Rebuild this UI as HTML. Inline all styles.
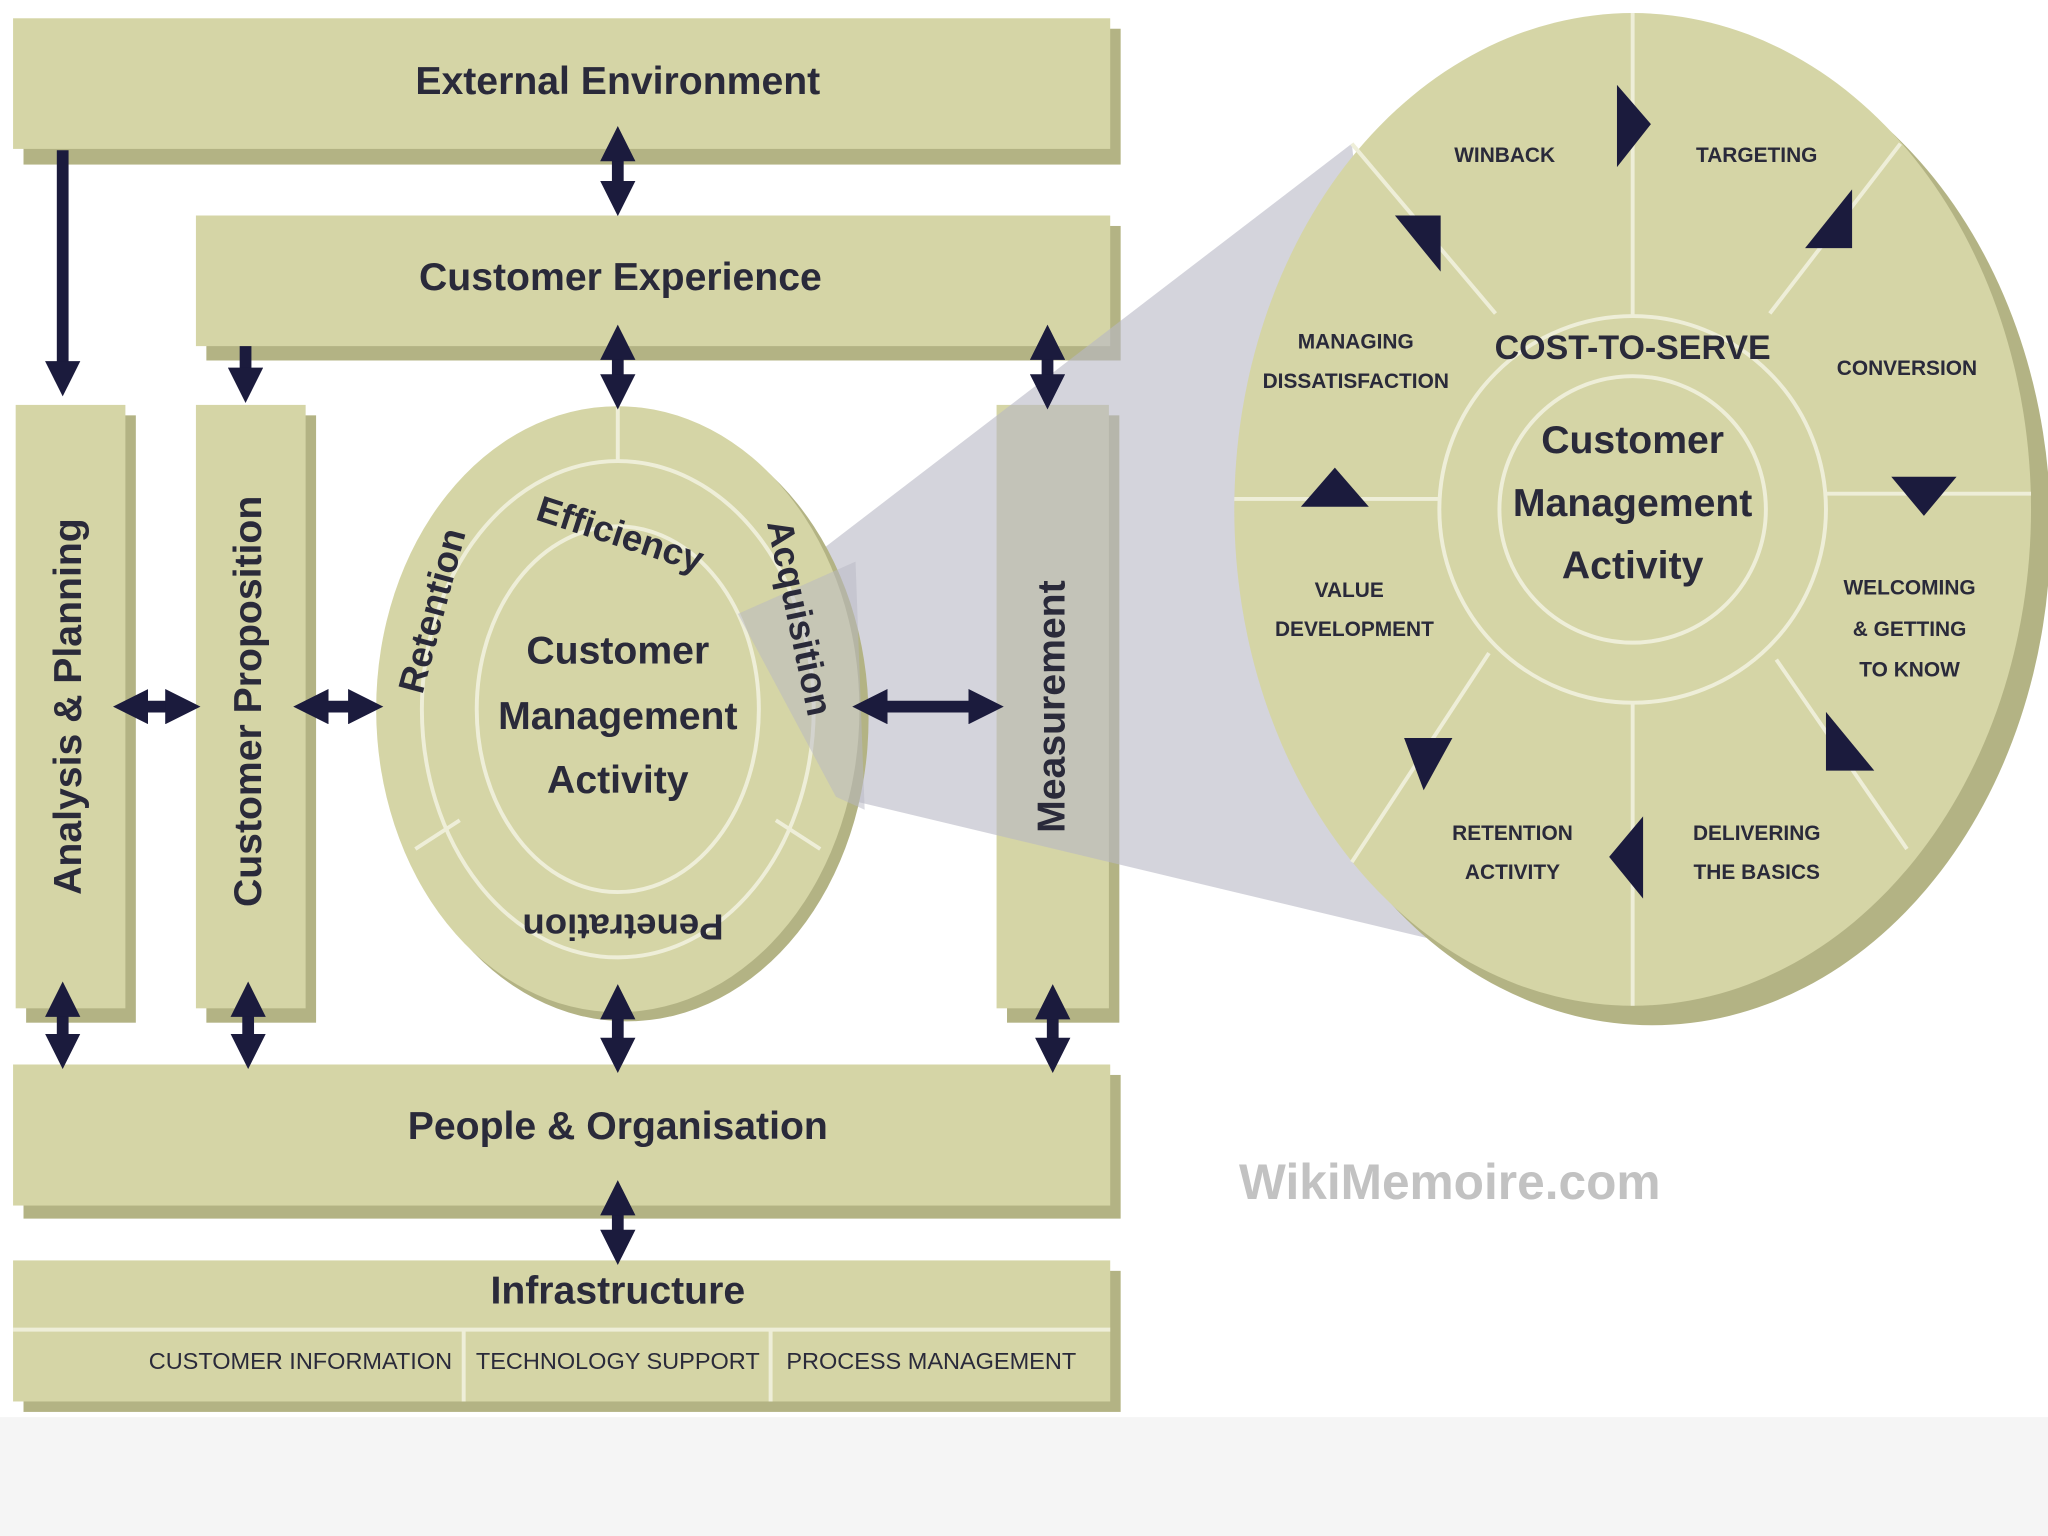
<!DOCTYPE html>
<html><head><meta charset="utf-8"><style>
html,body{margin:0;padding:0;background:#fff;}
svg{display:block;}
text{font-family:"Liberation Sans",sans-serif;fill:#2a2a3a;}
</style></head><body>
<svg width="2048" height="1536" viewBox="0 0 1568 1176" xmlns="http://www.w3.org/2000/svg">
<defs>
<marker id="ah" viewBox="0 0 10 10" refX="5" refY="5" markerWidth="3" markerHeight="3" orient="auto-start-reverse"><path d="M0,0 L10,5 L0,10 z" fill="#1b1b3d"/></marker>
</defs>
<rect x="0" y="1085" width="1568" height="91" fill="#f5f5f5"/>
<g fill="#b3b384">
<rect x="18" y="22" width="840" height="104"/>
<rect x="158" y="173" width="700" height="103"/>
<rect x="20" y="318" width="84" height="465"/>
<rect x="158" y="318" width="84" height="465"/>
<rect x="771" y="318" width="86" height="465"/>
<rect x="18" y="823" width="840" height="110"/>
<rect x="18" y="973" width="840" height="108"/>
</g>
<g fill="#d5d5a6">
<rect x="10" y="14" width="840" height="100"/>
<rect x="150" y="165" width="700" height="100"/>
<rect x="12" y="310" width="84" height="462"/>
<rect x="150" y="310" width="84" height="462"/>
<rect x="763" y="310" width="86" height="462"/>
<rect x="10" y="815" width="840" height="108"/>
<rect x="10" y="965" width="840" height="108"/>
</g>
<line x1="10" y1="1018" x2="850" y2="1018" stroke="#eeeed8" stroke-width="3"/>
<line x1="355" y1="1018" x2="355" y2="1073" stroke="#eeeed8" stroke-width="3"/>
<line x1="590" y1="1018" x2="590" y2="1073" stroke="#eeeed8" stroke-width="3"/>
<g font-weight="bold" text-anchor="middle" font-size="30">
<text x="473" y="72">External Environment</text>
<text x="475" y="222">Customer Experience</text>
<text x="473" y="872">People &amp; Organisation</text>
<text x="473" y="998">Infrastructure</text>
<text transform="translate(62,541) rotate(-90)">Analysis &amp; Planning</text>
<text transform="translate(200,537) rotate(-90)">Customer Proposition</text>
</g>
<g font-size="18" text-anchor="middle" fill="#333">
<text x="230" y="1048">CUSTOMER INFORMATION</text>
<text x="473" y="1048">TECHNOLOGY SUPPORT</text>
<text x="713" y="1048">PROCESS MANAGEMENT</text>
</g>
<!-- wedge -->
<polygon points="565,470 1035,110 1100,720 640,610" fill="#b8b8c4" opacity="0.6"/>
<text transform="translate(815,541) rotate(-90)" font-weight="bold" text-anchor="middle" font-size="30">Measurement</text>
<!-- small circle -->
<ellipse cx="480" cy="550" rx="185" ry="232" fill="#b3b384"/>
<ellipse cx="473" cy="543" rx="185" ry="232" fill="#d5d5a6"/>
<ellipse cx="473" cy="543" rx="150" ry="190" fill="none" stroke="#eeeed8" stroke-width="3"/>
<ellipse cx="473" cy="543" rx="108" ry="140" fill="none" stroke="#eeeed8" stroke-width="3"/>
<g stroke="#eeeed8" stroke-width="3"><line x1="473" y1="312" x2="473" y2="353"/><line x1="318" y1="650" x2="352" y2="628"/><line x1="628" y1="650" x2="594" y2="628"/></g>
<polygon points="565,470 655,430 662,620 640,610" fill="#b8b8c4" opacity="0.5"/>
<g font-weight="bold" text-anchor="middle" font-size="30">
<text x="473" y="508">Customer</text>
<text x="473" y="558">Management</text>
<text x="473" y="607">Activity</text>
<text transform="translate(340,470) rotate(-75)" font-size="28">Retention</text>
<text transform="translate(472,418) rotate(18)" font-size="28">Efficiency</text>
<text transform="translate(603,475) rotate(78)" font-size="28">Acquisition</text>
<text transform="translate(477,700) rotate(180)" font-size="28">Penetration</text>
</g>
<!-- big circle -->
<ellipse cx="1265" cy="405" rx="305" ry="380" fill="#b3b384"/>
<ellipse cx="1250" cy="390" rx="305" ry="380" fill="#d5d5a6"/>
<g stroke="#eeeed8" stroke-width="3" fill="none">
<circle cx="1250" cy="390" r="148"/>
<circle cx="1250" cy="390" r="102"/>
<line x1="1250" y1="10" x2="1250" y2="242"/><line x1="1250" y1="538" x2="1250" y2="770"/>
<line x1="945" y1="382" x2="1102" y2="382"/><line x1="1398" y1="378" x2="1555" y2="378"/>
<line x1="1035" y1="110" x2="1145" y2="240"/><line x1="1455" y1="110" x2="1355" y2="240"/>
<line x1="1035" y1="660" x2="1140" y2="500"/><line x1="1460" y1="650" x2="1360" y2="505"/>
</g>
<g font-weight="bold" text-anchor="middle" font-size="30">
<text x="1250" y="347">Customer</text>
<text x="1250" y="395">Management</text>
<text x="1250" y="443">Activity</text>
<text x="1250" y="275" font-size="26">COST-TO-SERVE</text>
</g>
<g font-size="16" text-anchor="middle" fill="#333" font-weight="bold">
<text x="1152" y="124">WINBACK</text>
<text x="1345" y="124">TARGETING</text>
<text x="1038" y="267">MANAGING</text><text x="1038" y="297">DISSATISFACTION</text>
<text x="1460" y="287">CONVERSION</text>
<text x="1033" y="457">VALUE</text><text x="1037" y="487">DEVELOPMENT</text>
<text x="1462" y="455">WELCOMING</text><text x="1462" y="487">&amp; GETTING</text><text x="1462" y="518">TO KNOW</text>
<text x="1158" y="643">RETENTION</text><text x="1158" y="673">ACTIVITY</text>
<text x="1345" y="643">DELIVERING</text><text x="1345" y="673">THE BASICS</text>
</g>
<g fill="#1b1b3d">
<polygon points="1238,65 1264,95 1238,128"/>
<polygon points="1418,145 1418,190 1382,190"/>
<polygon points="1448,365 1498,365 1473,395"/>
<polygon points="1398,545 1435,590 1398,590"/>
<polygon points="1258,625 1258,688 1232,656"/>
<polygon points="1075,565 1112,565 1090,605"/>
<polygon points="996,388 1048,388 1022,358"/>
<polygon points="1068,165 1103,165 1103,208"/>
</g>
<!-- connectors -->
<g stroke="#1b1b3d" stroke-width="9" marker-end="url(#ah)">
<line x1="48" y1="115" x2="48" y2="290"/>
<line x1="188" y1="265" x2="188" y2="295"/>
</g>
<g stroke="#1b1b3d" stroke-width="9" marker-start="url(#ah)" marker-end="url(#ah)">
<line x1="473" y1="110" x2="473" y2="152"/>
<line x1="473" y1="262" x2="473" y2="300"/>
<line x1="802" y1="262" x2="802" y2="300"/>
<line x1="100" y1="541" x2="140" y2="541"/>
<line x1="238" y1="541" x2="280" y2="541"/>
<line x1="666" y1="541" x2="755" y2="541"/>
<line x1="48" y1="765" x2="48" y2="805"/>
<line x1="190" y1="765" x2="190" y2="805"/>
<line x1="473" y1="767" x2="473" y2="808"/>
<line x1="806" y1="767" x2="806" y2="808"/>
<line x1="473" y1="917" x2="473" y2="955"/>
</g>
<text x="1110" y="918" font-size="38" font-weight="bold" text-anchor="middle" style="fill:#c2c2c2">WikiMemoire.com</text>
</svg>
</body></html>
